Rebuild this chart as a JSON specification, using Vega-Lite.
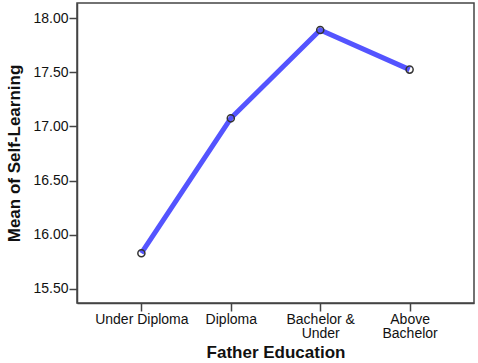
{
  "$schema": "https://vega.github.io/schema/vega-lite/v6.json",
  "autosize": {"type": "none"},
  "width": 397,
  "height": 300,
  "padding": {"left": 77, "top": 3, "right": 4, "bottom": 60},
  "background": "white",
  "config": {
    "view": {"stroke": "#444", "strokeWidth": 1.5},
    "font": "Liberation Sans",
    "axis": {
      "grid": false,
      "domainColor": "#444",
      "domainWidth": 1.5,
      "tickColor": "#444",
      "tickWidth": 1.5,
      "tickSize": 8,
      "labelColor": "#111",
      "labelFont": "Liberation Sans",
      "labelFontSize": 14,
      "titleFont": "Liberation Sans",
      "titleFontSize": 17,
      "titleFontWeight": "bold",
      "titleColor": "#111"
    }
  },
  "data": {
    "values": [
      {"edu": "Under Diploma", "mean": 15.83},
      {"edu": "Diploma", "mean": 17.075},
      {"edu": "Bachelor & Under", "mean": 17.89},
      {"edu": "Above Bachelor", "mean": 17.525}
    ]
  },
  "encoding": {
    "x": {
      "field": "edu",
      "type": "nominal",
      "sort": null,
      "scale": {"type": "point", "padding": 0.72},
      "axis": {
        "title": "Father Education",
        "labelAngle": 0,
        "labelPadding": 1,
        "labelLineHeight": 14,
        "labelExpr": "datum.label == 'Bachelor & Under' ? ['Bachelor &', 'Under'] : datum.label == 'Above Bachelor' ? ['Above', 'Bachelor'] : datum.label",
        "titlePadding": 4
      }
    },
    "y": {
      "field": "mean",
      "type": "quantitative",
      "scale": {"domain": [15.37, 18.14], "nice": false, "zero": false},
      "axis": {
        "title": "Mean of Self-Learning",
        "values": [15.5, 16.0, 16.5, 17.0, 17.5, 18.0],
        "format": ".2f",
        "labelPadding": 1,
        "titlePadding": 9
      }
    }
  },
  "layer": [
    {"mark": {"type": "line", "color": "#5454ff", "strokeWidth": 5}},
    {"mark": {"type": "point", "shape": "circle", "size": 50, "filled": false, "stroke": "#333", "strokeWidth": 1.5, "opacity": 1}}
  ]
}
